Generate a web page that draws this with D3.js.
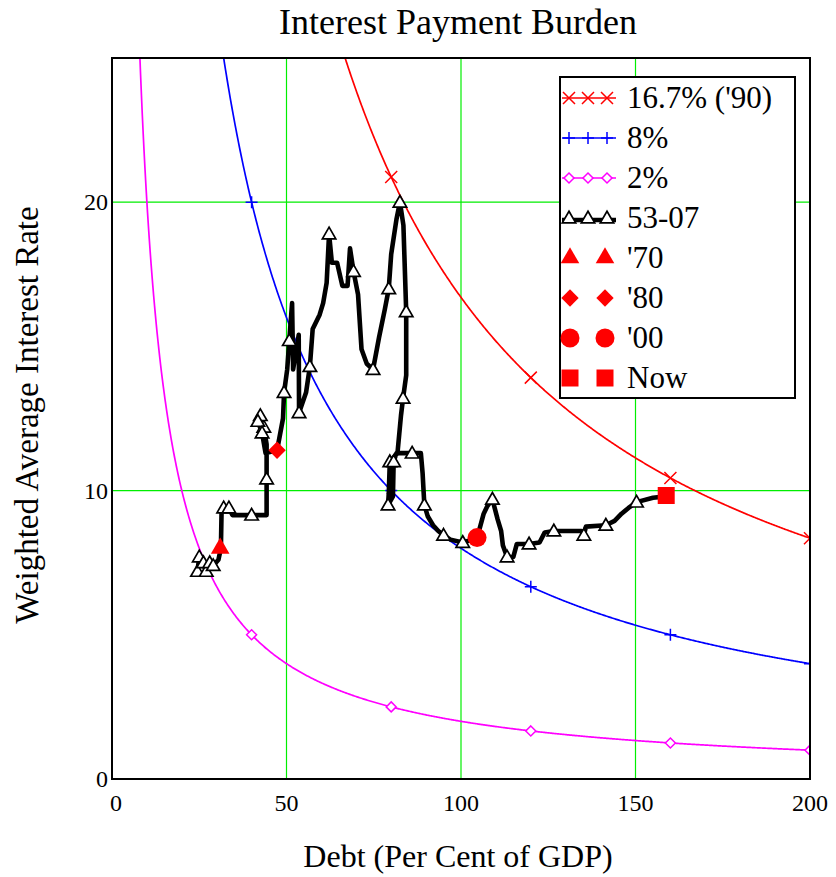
<!DOCTYPE html>
<html>
<head>
<meta charset="utf-8">
<script src="https://cdn.jsdelivr.net/npm/d3@7"></script>
<style>
  body { margin: 0; background: #fff; }
  text { font-family: "Liberation Serif", "Times New Roman", serif; fill: #000; }
</style>
</head>
<body>
<svg id="chart" width="836" height="877"></svg>
<script>
// iso-burden curves : rate = burden / debt * 100
var burdenNames = ["16.7% ('90)", "8%", "2%"];
var burdenValues = [16.7, 8, 2];
var burdenColors = ["#ff0000", "#0000ff", "#ff00ff"];
var burdenMarkers = ["cross", "plus", "diamond"];
var markerDebt = [40, 80, 120, 160, 200];

// historical path 53-07 (tri = 1 where a triangle is drawn)
var histDebt = [24.5, 25, 26.2, 27, 28, 29, 30.5, 31.2, 31.4, 32, 33.5, 34.5, 40, 44.3, 44.3, 44.3, 43.5, 42.5, 41.8, 43,
  44, 47.3, 49, 49.3, 50.2, 50.8, 51.6, 51.9, 53.5, 53.6, 55.6, 56.7, 57.5, 59.5, 60.5, 61.5, 62.2, 63, 64.5, 66,
  67.5, 68.2, 69.2, 70.5, 71.5, 73, 74.8, 76.5, 78.2, 79.3, 80, 81.5, 82.5, 83.5, 84.3, 84.3, 83.4, 82.8, 81.8, 79.6,
  79.3, 79.1, 80.5, 80.7, 81.5, 86, 88.5, 89, 89.5, 90.5, 92, 93.5, 95, 97, 100.5, 104.6, 106.5, 107.5, 109, 110.5,
  111.5, 112, 113.2, 115, 116, 119.5, 122.5, 124, 126.6, 134.5, 135.2, 135.8, 141.5, 144, 146, 148, 150.3, 155, 158.8];
var histRate = [7.2, 7.7, 7.5, 7.2, 7.5, 7.4, 7.6, 8.0, 9.3, 9.4, 9.4, 9.15, 9.15, 9.15, 10.4, 11.6, 12.2, 12.6, 12.4, 12.0,
  11.3, 11.4, 12.5, 13.4, 14.2, 15.2, 16.5, 14.2, 15.4, 12.7, 13.4, 14.3, 15.6, 16.1, 16.5, 17.2, 18.9, 17.9, 17.9, 17.1,
  17.1, 18.4, 17.6, 16.8, 14.9, 14.4, 14.2, 15.3, 16.3, 17.0, 18.2, 19.4, 20.0, 19.2, 16.2, 14.0, 13.2, 12.6, 11.3, 11.0,
  9.9, 9.5, 9.8, 11.0, 11.3, 11.3, 11.3, 10.6, 9.5, 9.1, 8.8, 8.6, 8.45, 8.3, 8.2, 8.35, 9.2, 9.45, 9.7, 9.0,
  8.6, 8.1, 7.7, 7.7, 8.15, 8.15, 8.2, 8.55, 8.6, 8.6, 8.45, 8.75, 8.8, 8.95, 9.2, 9.4, 9.6, 9.75, 9.8];
var histTri = [1, 1, 1, 1, 1, 1, 0, 0, 0, 1, 1, 0, 1, 0, 1, 0, 1, 1, 1, 1,
  0, 0, 0, 1, 0, 1, 0, 0, 0, 1, 0, 1, 0, 0, 0, 0, 1, 0, 0, 0,
  0, 0, 1, 0, 0, 0, 1, 0, 0, 1, 0, 0, 1, 0, 1, 0, 1, 0, 0, 1,
  0, 1, 0, 1, 0, 1, 0, 0, 1, 0, 0, 0, 1, 0, 1, 0, 0, 0, 1, 0,
  0, 0, 1, 0, 0, 1, 0, 0, 1, 0, 1, 0, 1, 0, 0, 0, 1, 0, 0];

var eventNames = ["'70", "'80", "'00", "Now"];
var eventDebt = [31, 47.3, 104.6, 158.8];
var eventRate = [8.0, 11.4, 8.37, 9.83];
var eventSymbols = ["triangle", "diamond", "circle", "square"];

var xTicks = [0, 50, 100, 150, 200];
var yTicks = [0, 10, 20];

var svg = d3.select("#chart");
var pL = 112, pR = 810, pT = 58, pB = 779;

var x = d3.scaleLinear().domain([0, 200]).range([pL, pR]);
var y = d3.scaleLinear().domain([0, 25]).range([pB, pT]);

svg.append("defs").append("clipPath").attr("id", "plot")
  .append("rect").attr("x", pL).attr("y", pT).attr("width", pR - pL).attr("height", pB - pT);

// grid
var grid = svg.append("g");
grid.selectAll(".gx").data([50, 100, 150]).enter().append("line")
  .attr("x1", function(d){ return x(d); }).attr("x2", function(d){ return x(d); })
  .attr("y1", pT).attr("y2", pB)
  .attr("stroke", "#00ee00").attr("stroke-width", 1.2);
grid.selectAll(".gy").data([10, 20]).enter().append("line")
  .attr("x1", pL).attr("x2", pR)
  .attr("y1", function(d){ return y(d); }).attr("y2", function(d){ return y(d); })
  .attr("stroke", "#00ee00").attr("stroke-width", 1.2);

function drawMarker(g, kind, cx, cy, color){
  if(kind == "cross"){
    g.append("path").attr("d", "M" + (cx-6) + "," + (cy-6) + "L" + (cx+6) + "," + (cy+6) + "M" + (cx-6) + "," + (cy+6) + "L" + (cx+6) + "," + (cy-6))
      .attr("stroke", color).attr("stroke-width", 1.5).attr("fill", "none");
  } else if(kind == "plus"){
    g.append("path").attr("d", "M" + (cx-6) + "," + cy + "L" + (cx+6) + "," + cy + "M" + cx + "," + (cy-6) + "L" + cx + "," + (cy+6))
      .attr("stroke", color).attr("stroke-width", 1.5).attr("fill", "none");
  } else if(kind == "diamond"){
    g.append("path").attr("d", "M" + cx + "," + (cy-5) + "L" + (cx+5) + "," + cy + "L" + cx + "," + (cy+5) + "L" + (cx-5) + "," + cy + "Z")
      .attr("stroke", color).attr("stroke-width", 1.5).attr("fill", "#fff");
  } else if(kind == "tri"){
    g.append("path").attr("d", d3.symbol().type(d3.symbolTriangle).size(78)())
      .attr("transform", "translate(" + cx + "," + (cy + 1) + ")")
      .attr("stroke", "#000").attr("stroke-width", 1.7).attr("fill", "#fff");
  } else if(kind == "triangle"){
    g.append("path").attr("d", d3.symbol().type(d3.symbolTriangle).size(150)())
      .attr("transform", "translate(" + cx + "," + cy + ")").attr("fill", color);
  } else if(kind == "diamondF"){
    g.append("path").attr("d", d3.symbol().type(d3.symbolSquare).size(150)())
      .attr("transform", "translate(" + cx + "," + cy + ") rotate(45)").attr("fill", color);
  } else if(kind == "circle"){
    g.append("circle").attr("cx", cx).attr("cy", cy).attr("r", 9.5).attr("fill", color);
  } else if(kind == "square"){
    g.append("rect").attr("x", cx - 8.5).attr("y", cy - 8.5).attr("width", 17).attr("height", 17).attr("fill", color);
  }
}

// curves
var plot = svg.append("g").attr("clip-path", "url(#plot)");
var curveLine = d3.line().x(function(d){ return x(d[0]); }).y(function(d){ return y(d[1]); });
burdenValues.forEach(function(b, i){
  var pts = d3.range(b * 100 / 26, 200.01, 0.25).map(function(d){ return [d, b * 100 / d]; });
  plot.append("path").attr("d", curveLine(pts))
    .attr("fill", "none").attr("stroke", burdenColors[i]).attr("stroke-width", 1.7);
  markerDebt.forEach(function(d){
    var r = b * 100 / d;
    if(r <= 25) drawMarker(plot, burdenMarkers[i], x(d), y(r), burdenColors[i]);
  });
});

// history path
var hist = histDebt.map(function(d, i){ return [d, histRate[i]]; });
plot.append("path").attr("d", curveLine(hist))
  .attr("fill", "none").attr("stroke", "#000").attr("stroke-width", 4.6)
  .attr("stroke-linejoin", "round").attr("stroke-linecap", "round");
hist.forEach(function(p, i){
  if(histTri[i]) drawMarker(plot, "tri", x(p[0]), y(p[1]), "#000");
});

// events
eventDebt.forEach(function(d, i){
  var k = eventSymbols[i] == "diamond" ? "diamondF" : eventSymbols[i];
  drawMarker(plot, k, x(d), y(eventRate[i]), "#ff0000");
});

// frame
svg.append("rect").attr("x", pL).attr("y", pT).attr("width", pR - pL).attr("height", pB - pT)
  .attr("fill", "none").attr("stroke", "#000").attr("stroke-width", 2);

// tick labels
svg.selectAll(".xt").data(xTicks).enter().append("text")
  .attr("x", function(d){ return x(d) + (d == 0 ? 4 : 0); }).attr("y", 811)
  .attr("text-anchor", "middle").attr("font-size", 24)
  .text(function(d){ return d; });
svg.selectAll(".yt").data(yTicks).enter().append("text")
  .attr("x", 108).attr("y", function(d){ return y(d) + 8; })
  .attr("text-anchor", "end").attr("font-size", 24)
  .text(function(d){ return d; });

// titles
svg.append("text").attr("x", 458).attr("y", 34).attr("text-anchor", "middle").attr("font-size", 36)
  .text("Interest Payment Burden");
svg.append("text").attr("x", 458).attr("y", 867).attr("text-anchor", "middle").attr("font-size", 32)
  .text("Debt (Per Cent of GDP)");
svg.append("text").attr("transform", "translate(38,415) rotate(-90)").attr("text-anchor", "middle").attr("font-size", 33)
  .text("Weighted Average Interest Rate");

// legend
var leg = svg.append("g");
leg.append("rect").attr("x", 560).attr("y", 77).attr("width", 235).attr("height", 321)
  .attr("fill", "#fff").attr("stroke", "#000").attr("stroke-width", 2);
var legNames = burdenNames.concat(["53-07"]).concat(eventNames);
legNames.forEach(function(name, i){
  var cy = 98 + i * 40;
  if(i < 3){
    leg.append("line").attr("x1", 562).attr("x2", 616).attr("y1", cy).attr("y2", cy)
      .attr("stroke", burdenColors[i]).attr("stroke-width", 1.7);
    [569, 588, 607].forEach(function(mx){ drawMarker(leg, burdenMarkers[i], mx, cy, burdenColors[i]); });
  } else if(i == 3){
    leg.append("line").attr("x1", 562).attr("x2", 616).attr("y1", cy + 2).attr("y2", cy + 2)
      .attr("stroke", "#000").attr("stroke-width", 4.6);
    [569, 588, 607].forEach(function(mx){ drawMarker(leg, "tri", mx, cy, "#000"); });
  } else {
    var k = eventSymbols[i - 4] == "diamond" ? "diamondF" : eventSymbols[i - 4];
    [570, 605].forEach(function(mx){ drawMarker(leg, k, mx, cy, "#ff0000"); });
  }
  leg.append("text").attr("x", 627).attr("y", cy + 10).attr("font-size", 31).text(name);
});
</script>
</body>
</html>
